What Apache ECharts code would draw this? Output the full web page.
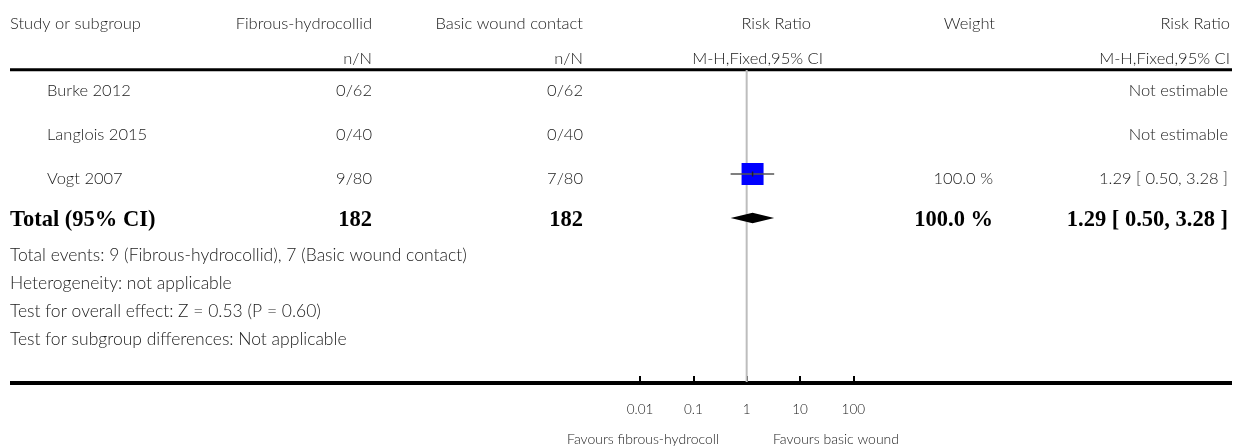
<!DOCTYPE html>
<html>
<head>
<meta charset="utf-8">
<script src="https://cdn.jsdelivr.net/npm/echarts@6/dist/echarts.min.js"></script>
<style>
html,body{margin:0;padding:0;background:#fff;}
#chart{width:1234px;height:448px;}
</style>
</head>
<body>
<div id="chart"></div>
<script>
// ---- data ----
const headerRow1 = ['Study or subgroup', 'Fibrous-hydrocollid', 'Basic wound contact', 'Risk Ratio', 'Weight', 'Risk Ratio'];
const headerRow2 = ['', 'n/N', 'n/N', 'M-H,Fixed,95% CI', '', 'M-H,Fixed,95% CI'];
const studies = ['Burke 2012', 'Langlois 2015', 'Vogt 2007'];
const expEvents = ['0/62', '0/40', '9/80'];
const ctrlEvents = ['0/62', '0/40', '7/80'];
const studyRR = [null, null, 1.29];
const studyLo = [null, null, 0.50];
const studyHi = [null, null, 3.28];
const studyWeight = ['', '', '100.0 %'];
const studyRRText = ['Not estimable', 'Not estimable', '1.29 [ 0.50, 3.28 ]'];
const totalLabel = 'Total (95% CI)';
const totalExp = '182';
const totalCtrl = '182';
const totalWeight = '100.0 %';
const totalRR = 1.29;
const totalLo = 0.50;
const totalHi = 3.28;
const totalRRText = '1.29 [ 0.50, 3.28 ]';
const footnotes = [
  'Total events: 9 (Fibrous-hydrocollid), 7 (Basic wound contact)',
  'Heterogeneity: not applicable',
  'Test for overall effect: Z = 0.53 (P = 0.60)',
  'Test for subgroup differences: Not applicable'
];
const tickValues = [0.01, 0.1, 1, 10, 100];
const favoursLabels = ['Favours fibrous-hydrocoll', 'Favours basic wound'];

// ---- layout ----
const FONT = 'Lato, "Open Sans", sans-serif';
const SERIF = '"Liberation Serif", "DejaVu Serif", serif';
const TXT = '#1a1a1a';
const FS = 16.5;
const W = '300';
const rowPos = studies.map((s, i) => i + 1);
const totalPos = studies.length + 1;
const yMin = 0.636, yMax = 7.727;

const chart = echarts.init(document.getElementById('chart'), null, {renderer: 'canvas'});

const ciData = [];
const sqData = [];
studies.forEach((s, i) => {
  if (studyRR[i] != null) {
    ciData.push([[studyLo[i], rowPos[i]], [studyHi[i], rowPos[i]]]);
    sqData.push([studyRR[i], rowPos[i]]);
  }
});

const series = [
  {
    type: 'line', name: 'ref', data: [[1, yMin], [1, yMax]], symbol: 'none',
    lineStyle: {color: '#bdbdbd', width: 2}, z: 1, silent: true, animation: false
  },
  {
    type: 'scatter', name: 'square', data: sqData, symbol: 'rect', symbolSize: 22,
    itemStyle: {color: '#0000ff', opacity: 1}, z: 2, animation: false
  }
];
ciData.forEach(seg => {
  series.push({
    type: 'line', data: seg, symbol: 'none',
    lineStyle: {color: '#555', width: 1.6}, z: 3, animation: false
  });
});
series.push({
  type: 'scatter', name: 'mid', data: sqData, symbol: 'rect', symbolSize: [1.5, 5],
  itemStyle: {color: '#222', opacity: 1}, z: 4, animation: false
});
series.push({
  type: 'custom', name: 'diamond', data: [[totalRR, totalPos, totalLo, totalHi]],
  renderItem: function (params, api) {
    const c = api.coord([api.value(0), api.value(1)]);
    const l = api.coord([api.value(2), api.value(1)]);
    const r = api.coord([api.value(3), api.value(1)]);
    const h = 5.3;
    return {
      type: 'polygon',
      shape: {points: [[l[0], c[1]], [c[0], c[1] - h], [r[0], c[1]], [c[0], c[1] + h]]},
      style: {fill: '#000'}
    };
  },
  z: 3, animation: false
});

chart.setOption({
  animation: false,
  grid: {left: 640, width: 213.33, top: 70, height: 312, containLabel: false},
  xAxis: {
    type: 'log', logBase: 10, min: 0.01, max: 100,
    axisLine: {show: false},
    axisTick: {show: true, inside: true, length: 6, lineStyle: {color: '#000', width: 2}},
    axisLabel: {
      margin: 21, fontSize: 13.5, color: TXT, fontFamily: FONT, fontWeight: W,
      formatter: function (v) { return String(tickValues.find(t => Math.abs(t - v) / t < 1e-6) ?? v); }
    },
    splitLine: {show: false}
  },
  yAxis: {type: 'value', inverse: true, min: yMin, max: yMax, show: false},
  series: series
});

// ---- table text ----
function txt(x, y, s, align, opts) {
  opts = opts || {};
  return {
    type: 'text', x: x, y: y, silent: true,
    style: {
      text: s, fill: opts.fill || TXT, align: align, verticalAlign: 'middle',
      font: (opts.weight || W) + ' ' + (opts.size || FS) + 'px ' + (opts.family || FONT)
    }
  };
}
const g = [];
g.push({type: 'rect', shape: {x: 10, y: 68.3, width: 1222, height: 3}, style: {fill: '#000'}, silent: true});
g.push({type: 'rect', shape: {x: 10, y: 381, width: 1222, height: 4}, style: {fill: '#000'}, silent: true});

const hx = [[10, 'left'], [372, 'right'], [583, 'right'], [811, 'right'], [995, 'right'], [1230, 'right']];
const hx2 = [[10, 'left'], [372, 'right'], [583, 'right'], [823, 'right'], [995, 'right'], [1230, 'right']];
headerRow1.forEach((s, i) => { if (s) g.push(txt(hx[i][0], 23.5, s, hx[i][1])); });
headerRow2.forEach((s, i) => { if (s) g.push(txt(hx2[i][0], 58.5, s, hx2[i][1])); });

studies.forEach((s, i) => {
  const y = chart.convertToPixel({yAxisIndex: 0}, rowPos[i]) + 5;
  g.push(txt(47, y, s, 'left'));
  g.push(txt(372, y, expEvents[i], 'right'));
  g.push(txt(583, y, ctrlEvents[i], 'right'));
  if (studyWeight[i]) g.push(txt(993, y, studyWeight[i], 'right'));
  g.push(txt(1228, y, studyRRText[i], 'right'));
});
const ty = chart.convertToPixel({yAxisIndex: 0}, totalPos) + 2;
const B = {weight: 'bold', size: 22.5, family: SERIF, fill: '#000'};
g.push(txt(10, ty, totalLabel, 'left', B));
g.push(txt(372, ty, totalExp, 'right', B));
g.push(txt(583, ty, totalCtrl, 'right', B));
g.push(txt(993, ty, totalWeight, 'right', B));
g.push(txt(1228, ty, totalRRText, 'right', B));

footnotes.forEach((s, i) => g.push(txt(10, 255 + 28 * i, s, 'left', {size: 17.5})));

g.push(txt(719, 439, favoursLabels[0], 'right', {size: 14}));
g.push(txt(773, 439, favoursLabels[1], 'left', {size: 14}));

chart.setOption({graphic: {elements: g}});
</script>
</body>
</html>
